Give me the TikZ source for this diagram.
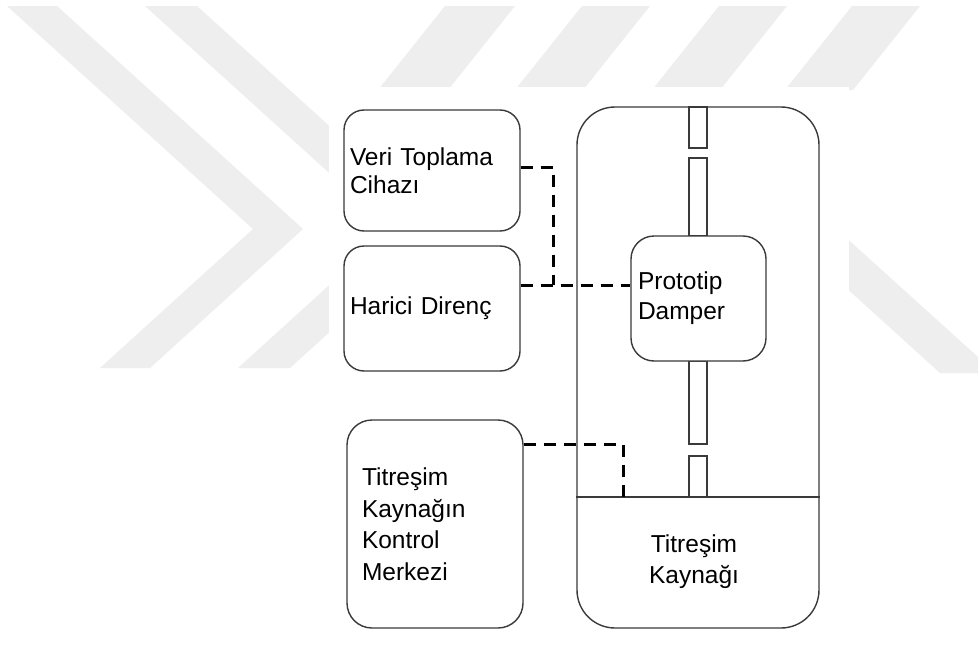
\documentclass[tikz,border=0pt]{standalone}
\usepackage{fontspec}
\setmainfont{Liberation Sans}
\definecolor{wmgray}{HTML}{EEEEEE}
\definecolor{linec}{HTML}{3A3A3A}
\begin{document}
\begin{tikzpicture}[x=1pt,y=-1pt,
  box/.style={draw=linec, line width=1.4pt, rounded corners=20pt, fill=white,
    inner ysep=0pt, align=left},
  lbl/.style={font=\fontsize{24.5}{#1}\selectfont},
  conn/.style={draw=black, line width=3pt, dash pattern=on 12pt off 8pt},
  rodpart/.style={draw=linec, line width=1.4pt, fill=white},
  wm/.style={fill=wmgray, draw=none}]

% page area
\useasboundingbox (0,0) rectangle (978,645);
\fill[white] (0,0) rectangle (978,645);

% light background emblem
\fill[wm] (7,6) -- (57,6) -- (303,229) -- (150,368) -- (100,368) -- (253,229) -- cycle;
\fill[wm] (145,6) -- (197,6) -- (443,229) -- (290,368) -- (238,368) -- (391,229) -- cycle;
\fill[wm] (445,6) -- (515,6) -- (448,90) -- (378,90) -- cycle;
\fill[wm] (582,6) -- (650,6) -- (583,90) -- (515,90) -- cycle;
\fill[wm] (719,6) -- (787,6) -- (720,90) -- (652,90) -- cycle;
\fill[wm] (852,6) -- (920,6) -- (853,90) -- (785,90) -- cycle;
\fill[wm] (800,196) -- (978,357) -- (978,373) -- (940,373) -- (800,246) -- cycle;

% white sheet of the diagram
\fill[white] (329,87) rectangle (849,645);

% test rig: frame with the shaker at its base
\node[draw=linec, line width=1.4pt, rounded corners=38pt, minimum width=242pt,
  minimum height=521pt, inner sep=0pt] (rig) at (698,367.5) {};
\coordinate (sepy) at (0,497);
\draw[linec, line width=1.4pt] (rig.west |- sepy) -- (rig.east |- sepy);
\node[lbl=31, align=center, inner sep=0pt] (shaker) at (694,562)
  {Titreşim\\Kaynağı};

% rod holding the damper
\draw[rodpart] (689,107) rectangle (707,148);
\draw[rodpart] (689,158) rectangle (707,236);
\draw[rodpart] (689,361) rectangle (707,444);
\draw[rodpart] (689,456) rectangle (707,497);

% boxes
\node[box, lbl=28, text width=164pt, inner xsep=6pt, minimum height=121pt]
  (veri) at (432,170.5) {Veri Toplama\\Cihazı};
\node[box, lbl=28, text width=164pt, inner xsep=6pt, minimum height=125pt]
  (harici) at (432,308.5) {Harici Direnç};
\node[box, lbl=31.5, rounded corners=25pt, text width=146pt, inner xsep=15pt,
  minimum height=208pt] (ctrl) at (435,524)
  {Titreşim\\Kaynağın\\Kontrol\\Merkezi};
\node[box, lbl=30, rounded corners=23pt, text width=121pt, inner xsep=7pt,
  minimum height=125pt] (proto) at (698.5,298.5) {Prototip\\Damper};

% wiring
\coordinate (j) at (553,285);
\coordinate (k) at (623,497);
\draw[conn] (veri.east |- 0,167) -| (j);
\draw[conn] (harici.east |- j) -- (proto.west |- j);
\draw[conn] (ctrl.east |- 0,444) -| (k);
\end{tikzpicture}
\end{document}
